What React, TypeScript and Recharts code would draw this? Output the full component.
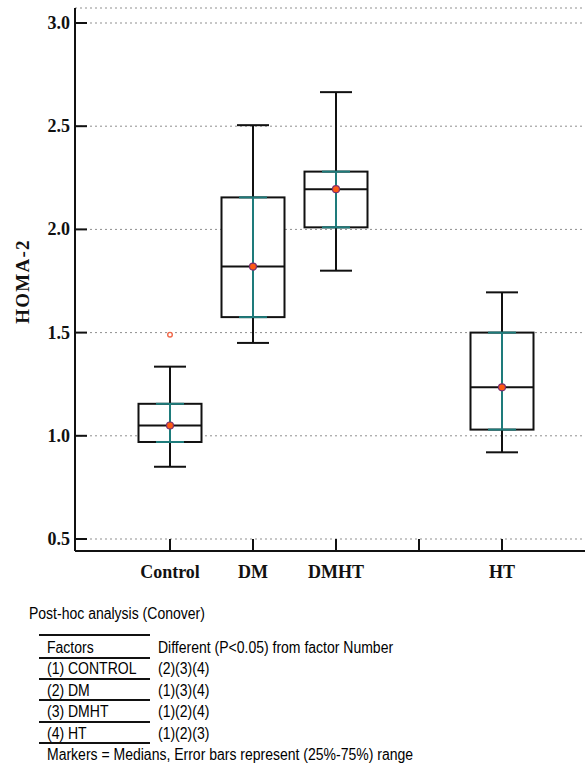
import React from 'react';
import { ComposedChart, Bar, Scatter, ErrorBar, XAxis, YAxis, CartesianGrid } from 'recharts';

const categories = ['Control', 'DM', 'DMHT', 'HT'];
const positions = [1, 2, 3, 5];
const whiskerLow = [0.85, 1.45, 1.8, 0.92];
const q1 = [0.97, 1.575, 2.01, 1.03];
const median = [1.05, 1.82, 2.195, 1.235];
const q3 = [1.155, 2.155, 2.28, 1.5];
const whiskerHigh = [1.335, 2.505, 2.665, 1.695];

const outlierPositions = [1];
const outlierValues = [1.49];

const xTicks = [1, 2, 3, 4, 5];
const yTicks = [0.5, 1.0, 1.5, 2.0, 2.5, 3.0];

const factorNames = ['Factors', '(1) CONTROL', '(2) DM', '(3) DMHT', '(4) HT'];
const factorDiffs = ['Different (P<0.05) from factor Number', '(2)(3)(4)', '(1)(3)(4)', '(1)(2)(4)', '(1)(2)(3)'];
const footnote = 'Markers = Medians, Error bars represent (25%-75%) range';

const boxRows = positions.map((p, i) => ({
  x: p,
  box: [q1[i], q3[i]],
  median: median[i],
  whisker: [median[i] - whiskerLow[i], whiskerHigh[i] - median[i]],
  iqr: [median[i] - q1[i], q3[i] - median[i]],
}));

const outlierRows = outlierPositions.map((p, i) => ({ x: p, value: outlierValues[i] }));

const serif = '"Liberation Serif", "Times New Roman", serif';
const sans = '"Liberation Sans", Arial, sans-serif';
const ink = '#111';

const BoxShape = (props: any) => {
  const { x, y, width, height, payload } = props;
  const top = Math.min(y, y + height);
  const h = Math.abs(height);
  const [lo, hi] = payload.box;
  const my = top + (h * (hi - payload.median)) / (hi - lo);
  return (
    <g>
      <rect x={x} y={top} width={width} height={h} fill="#fff" stroke={ink} strokeWidth={2} />
      <line x1={x} x2={x + width} y1={my} y2={my} stroke={ink} strokeWidth={2} />
    </g>
  );
};

const MedianDot = (props: any) => (
  <circle cx={props.cx} cy={props.cy} r={3.5} fill="#ff5a14" stroke="#7d2f6c" strokeWidth={1.2} />
);

const OutlierDot = (props: any) => (
  <circle cx={props.cx} cy={props.cy} r={2.3} fill="#fff" stroke="#f0684a" strokeWidth={1.4} />
);

const YTick = (props: any) => {
  const { x, y, payload } = props;
  return (
    <g>
      <line x1={x} x2={x + 12} y1={y} y2={y} stroke={ink} strokeWidth={2} />
      <text x={x - 5} y={y} dy={6} textAnchor="end" fontFamily={serif} fontWeight="bold" fontSize={18} fill={ink}>
        {Number(payload.value).toFixed(1)}
      </text>
    </g>
  );
};

const XTick = (props: any) => {
  const { x, y, payload } = props;
  const idx = positions.indexOf(payload.value);
  return (
    <g>
      <line x1={x} x2={x} y1={y} y2={y - 12} stroke={ink} strokeWidth={2} />
      <text x={x} y={y + 27} textAnchor="middle" fontFamily={serif} fontWeight="bold" fontSize={18} fill={ink}>
        {idx >= 0 ? categories[idx] : ''}
      </text>
    </g>
  );
};

const YLabel = (props: any) => {
  const vb = props.viewBox;
  const cx = vb.x + 22;
  const cy = vb.y + vb.height / 2 + 2;
  return (
    <text
      x={cx}
      y={cy}
      transform={`rotate(-90 ${cx} ${cy})`}
      textAnchor="middle"
      dominantBaseline="central"
      fontFamily={serif}
      fontWeight="bold"
      fontSize={19}
      letterSpacing={1.2}
      fill={ink}
    >
      HOMA-2
    </text>
  );
};

const narrow: React.CSSProperties = {
  display: 'inline-block',
  transform: 'scaleX(0.875)',
  transformOrigin: 'left center',
  whiteSpace: 'nowrap',
};

const textLine = (top: number, left: number, text: string, key?: string) => (
  <div
    key={key}
    style={{ position: 'absolute', top, left, fontFamily: sans, fontSize: 16, lineHeight: '18px', color: '#000' }}
  >
    <span style={narrow}>{text}</span>
  </div>
);

export default function App() {
  return (
    <div style={{ position: 'absolute', left: 0, top: 0, width: 585, height: 765, background: '#fff' }}>
      <ComposedChart width={585} height={581} data={boxRows} margin={{ top: 8, right: 0, bottom: 0, left: 0 }}>
        <CartesianGrid vertical={false} stroke="#8f8f8f" strokeDasharray="2 3" />
        <XAxis
          type="number"
          dataKey="x"
          domain={[0, 6]}
          ticks={xTicks}
          interval={0}
          padding={{ left: 12, right: 0 }}
          height={30}
          tickSize={0}
          tickMargin={0}
          tickLine={false}
          tick={XTick}
          axisLine={{ stroke: ink, strokeWidth: 2 }}
        />
        <YAxis
          type="number"
          domain={[0.5, 3]}
          ticks={yTicks}
          interval={0}
          width={75}
          padding={{ top: 15, bottom: 12 }}
          tickSize={0}
          tickMargin={0}
          tickLine={false}
          tick={YTick}
          axisLine={{ stroke: ink, strokeWidth: 2 }}
          label={YLabel}
        />
        <Bar dataKey="box" barSize={63} shape={BoxShape} isAnimationActive={false} />
        <Scatter dataKey="median" shape={MedianDot} isAnimationActive={false}>
          <ErrorBar dataKey="whisker" direction="y" width={16} stroke={ink} strokeWidth={2} isAnimationActive={false} />
          <ErrorBar dataKey="iqr" direction="y" width={14} stroke="#1e7b7b" strokeWidth={2} isAnimationActive={false} />
        </Scatter>
        <Scatter data={outlierRows} dataKey="value" shape={OutlierDot} isAnimationActive={false} />
      </ComposedChart>

      {textLine(605, 29, 'Post-hoc analysis (Conover)')}
      <div style={{ position: 'absolute', top: 634, left: 39, width: 111, height: 2, background: ink }} />
      {factorNames.map((name, i) => (
        <React.Fragment key={name}>
          {textLine(639 + i * 21.4, 47, name)}
          {textLine(639 + i * 21.4, 158, factorDiffs[i])}
          <div style={{ position: 'absolute', top: 657 + i * 21.2, left: 39, width: 111, height: 2, background: ink }} />
        </React.Fragment>
      ))}
      {textLine(746, 47, footnote)}
    </div>
  );
}
